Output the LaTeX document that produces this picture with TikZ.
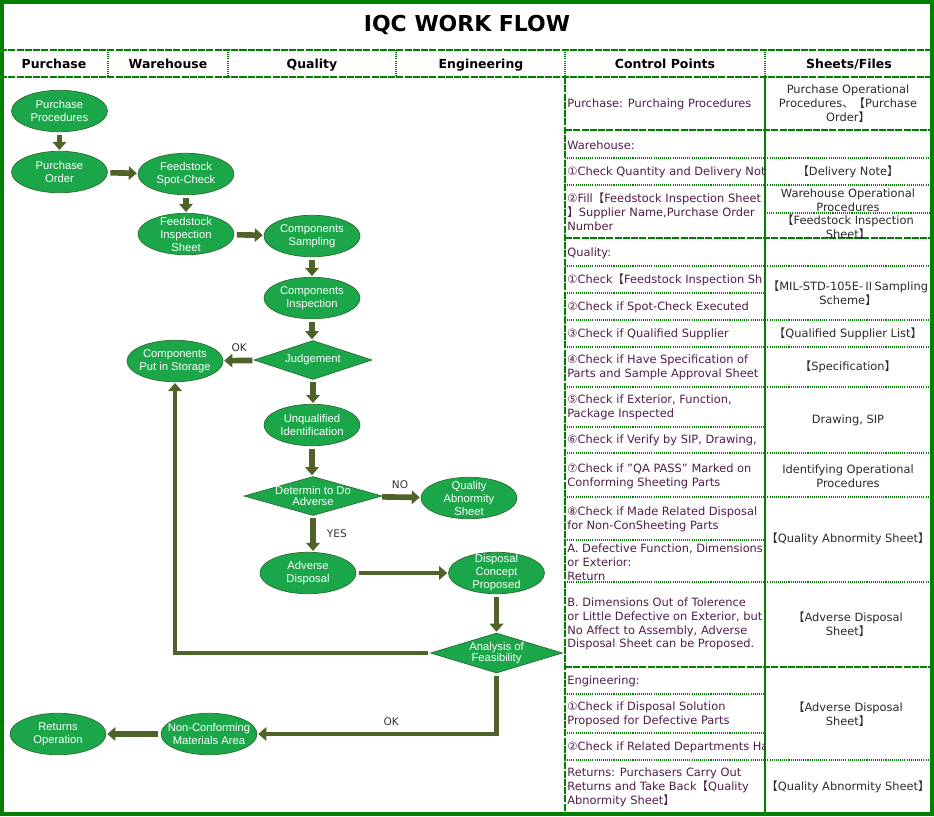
\documentclass[tikz,border=0pt]{standalone}
\usepackage{fontspec}
\setmainfont{DejaVu Sans}
\newfontfamily\flowfont{Liberation Sans}
\newfontfamily\cjk{Noto Sans CJK SC}
\usetikzlibrary{shapes.geometric,arrows.meta}
\definecolor{framegreen}{RGB}{0,128,0}
\definecolor{procfill}{RGB}{28,166,74}
\definecolor{procline}{RGB}{40,110,45}
\definecolor{arrowolive}{RGB}{79,98,40}
\definecolor{cptext}{RGB}{80,30,70}
\definecolor{shtext}{RGB}{45,40,45}
\newcommand{\LBk}{{\cjk 【}}
\newcommand{\RBk}{{\cjk 】}}

\begin{document}
\begin{tikzpicture}[x=0.02cm, y=-0.02cm,
    title/.style ={font=\bfseries\fontsize{12.5}{14}\selectfont},
    hdr/.style ={anchor=base, font=\bfseries\fontsize{7.1}{8}\selectfont},
    proc/.style ={ellipse, draw=procline, fill=procfill, text=white, inner xsep=-5pt, inner ysep=-6pt,
                  minimum width=1.92cm, minimum height=0.83cm, align=center,
                  font=\flowfont\fontsize{6.4}{7.4}\selectfont},
    decide/.style ={diamond, draw=procline, fill=procfill, text=white, inner sep=-1pt, aspect=3.3,
                  align=center, font=\flowfont\fontsize{6.4}{6}\selectfont},
    flow/.style ={draw=arrowolive, line width=3.2pt, -{Triangle[length=4.6pt,width=7.6pt]},
                  shorten <=1.5pt, shorten >=0.5pt},
    longflow/.style ={flow, line width=2.3pt},
    tag/.style ={text=black!80, font=\fontsize{6}{7}\selectfont},
    cpt/.style ={anchor=west, align=left, inner sep=0pt, text=cptext, font=\fontsize{6.5}{7.9}\selectfont},
    sht/.style ={align=center, inner sep=0pt, text=shtext, font=\fontsize{6.5}{7.9}\selectfont},
    thickrule/.style ={draw=framegreen, line width=1.3pt, dash pattern=on 4pt off 0.7pt},
    rowrule/.style ={draw=framegreen, line width=0.6pt, dash pattern=on 0.6pt off 0.6pt}]
   \useasboundingbox (0,0) rectangle (934,816);

   % title and column heads
   \node[title] (ttl) at (467,25) {IQC WORK FLOW};
   \node[hdr] (hpur) at (54,68) {Purchase};
   \node[hdr] (hwar) at (168,68) {Warehouse};
   \node[hdr] (hqua) at (312,68) {Quality};
   \node[hdr] (heng) at (481,68) {Engineering};
   \node[hdr] (hcp) at (665,68) {Control Points};
   \node[hdr] (hsf) at (849,68) {Sheets/Files};

   % rules
   \draw[thickrule] (0,50) -- (934,50) (0,77) -- (934,77);
   \draw[rowrule] (108,50) -- (108,77) (228,50) -- (228,77) (396,50) -- (396,77)
                  (565,50) -- (565,77) (765,50) -- (765,77);
   \draw[thickrule] (565,77) -- (565,816);
   \draw[framegreen, line width=1.7pt] (765,77) -- (765,816);
   \draw[thickrule] (565,130) -- (932,130) (565,238) -- (932,238) (565,667) -- (932,667);
   \draw[rowrule] (565,158) -- (932,158) (565,185) -- (932,185) (565,266) -- (932,266)
                  (565,320) -- (932,320) (565,347) -- (932,347) (565,387) -- (932,387)
                  (565,453) -- (932,453) (565,497) -- (932,497) (565,582) -- (932,582)
                  (565,760) -- (932,760);
   \draw[rowrule] (565,293) -- (765,293) (565,427) -- (765,427) (565,540) -- (765,540)
                  (565,694) -- (765,694) (565,733) -- (765,733) (765,213) -- (932,213);

   % work flow
   \node[proc] (pp) at (59.5,111) {Purchase\\Procedures};
   \node[proc] (po) at (59.5,172) {Purchase\\Order};
   \node[proc] (spot) at (186,174) {Feedstock\\Spot-Check};
   \node[proc] (fis) at (186,234) {Feedstock\\Inspection\\Sheet};
   \node[proc] (csam) at (312,236) {Components\\Sampling};
   \node[proc] (cins) at (312,298) {Components\\Inspection};
   \node[decide, minimum width=2.36cm, minimum height=0.78cm] (judge) at (313,360) {Judgement};
   \node[proc] (store) at (175,361) {Components\\Put in Storage};
   \node[proc] (unq) at (312,425) {Unqualified\\Identification};
   \node[decide, minimum width=2.76cm, minimum height=0.78cm] (det) at (313,496) {Determin to Do\\Adverse};
   \node[proc] (qas) at (469,498) {Quality\\Abnormity\\Sheet};
   \node[proc] (adv) at (308,573) {Adverse\\Disposal};
   \node[proc] (dcp) at (496.5,573) {Disposal\\Concept\\Proposed};
   \node[decide, minimum width=2.64cm, minimum height=0.8cm] (feas) at (496.5,653) {Analysis of\\Feasibility};
   \node[proc] (ncm) at (209,734) {Non-Conforming\\Materials Area};
   \node[proc] (ret) at (58,734) {Returns\\Operation};

   \draw[flow] (pp) -- (po);
   \draw[flow] (po) -- (spot);
   \draw[flow] (spot) -- (fis);
   \draw[flow] (fis) -- (csam);
   \draw[flow] (csam) -- (cins);
   \draw[flow] (cins.south) -- (cins.south |- judge.north);
   \draw[flow] (judge) -- node[tag, above] {OK} (store);
   \draw[flow] (judge.south) -- (judge.south |- unq.north);
   \draw[flow] (unq.south) -- (unq.south |- det.north);
   \draw[flow] (det) -- node[tag, above] {NO} (qas);
   \draw[flow] (det.south) -- node[tag, right, xshift=3pt] {YES} (det.south |- adv.north);
   \draw[longflow] (adv) -- (dcp);
   \draw[flow] (dcp) -- (feas);
   \draw[longflow] (feas.west) -| (store.south);
   \draw[longflow] (feas.south) |- node[tag, pos=0.72, above] {OK} (ncm.east);
   \draw[flow] (ncm) -- (ret);

   % control points
   \begin{scope}
   \clip (566,78) rectangle (764,814);
   \node[cpt] (cp1) at (567,104) {Purchase: Purchaing Procedures};
   \node[cpt] (cp2) at (567,145) {Warehouse:};
   \node[cpt] (cp3) at (567,172) {①Check Quantity and Delivery Not};
   \node[cpt] (cp4) at (567,212) {②Fill\LBk Feedstock Inspection Sheet\\\RBk Supplier Name,Purchase Order\\Number};
   \node[cpt] (cp5) at (567,253) {Quality:};
   \node[cpt] (cp6) at (567,280) {①Check\LBk Feedstock Inspection Sh};
   \node[cpt] (cp7) at (567,307) {②Check if Spot-Check Executed};
   \node[cpt] (cp8) at (567,334) {③Check if Qualified Supplier};
   \node[cpt] (cp9) at (567,367) {④Check if Have Specification of\\Parts and Sample Approval Sheet};
   \node[cpt] (cp10) at (567,407) {⑤Check if Exterior, Function,\\Package Inspected};
   \node[cpt] (cp11) at (567,440) {⑥Check if Verify by SIP, Drawing,};
   \node[cpt] (cp12) at (567,476) {⑦Check if "QA PASS" Marked on\\Conforming Sheeting Parts};
   \node[cpt] (cp13) at (567,519) {⑧Check if Made Related Disposal\\for Non-ConSheeting Parts};
   \node[cpt] (cp14) at (567,562) {A. Defective Function, Dimensions\\or Exterior:\\Return};
   \node[cpt] (cp15) at (567,624) {B. Dimensions Out of Tolerence\\or Little Defective on Exterior, but\\No Affect to Assembly, Adverse\\Disposal Sheet can be Proposed.};
   \node[cpt] (cp16) at (567,681) {Engineering:};
   \node[cpt] (cp17) at (567,714) {①Check if Disposal Solution\\Proposed for Defective Parts};
   \node[cpt] (cp18) at (567,747) {②Check if Related Departments Ha};
   \node[cpt] (cp19) at (567,787) {Returns: Purchasers Carry Out\\Returns and Take Back\LBk Quality\\Abnormity Sheet\RBk};
   \end{scope}

   % sheets and files
   \node[sht] (sf1) at (848,104) {Purchase Operational\\Procedures{\cjk 、}\LBk Purchase\\Order\RBk};
   \node[sht] (sf2) at (848,172) {\LBk Delivery Note\RBk};
   \node[sht] (sf3) at (848,200) {Warehouse Operational\\Procedures};
   \node[sht] (sf4) at (848,227) {\LBk Feedstock Inspection\\Sheet\RBk};
   \node[sht] (sf5) at (848,293) {\LBk MIL-STD-105E-{\cjk Ⅱ}Sampling\\Scheme\RBk};
   \node[sht] (sf6) at (848,334) {\LBk Qualified Supplier List\RBk};
   \node[sht] (sf7) at (848,367) {\LBk Specification\RBk};
   \node[sht] (sf8) at (848,420) {Drawing, SIP};
   \node[sht] (sf9) at (848,476) {Identifying Operational\\Procedures};
   \node[sht] (sf10) at (848,539) {\LBk Quality Abnormity Sheet\RBk};
   \node[sht] (sf11) at (848,624) {\LBk Adverse Disposal\\Sheet\RBk};
   \node[sht] (sf12) at (848,714) {\LBk Adverse Disposal\\Sheet\RBk};
   \node[sht] (sf13) at (848,787) {\LBk Quality Abnormity Sheet\RBk};

   \draw[framegreen, line width=2.3pt] (2,2) rectangle (932,814);
 \end{tikzpicture}
\end{document}
